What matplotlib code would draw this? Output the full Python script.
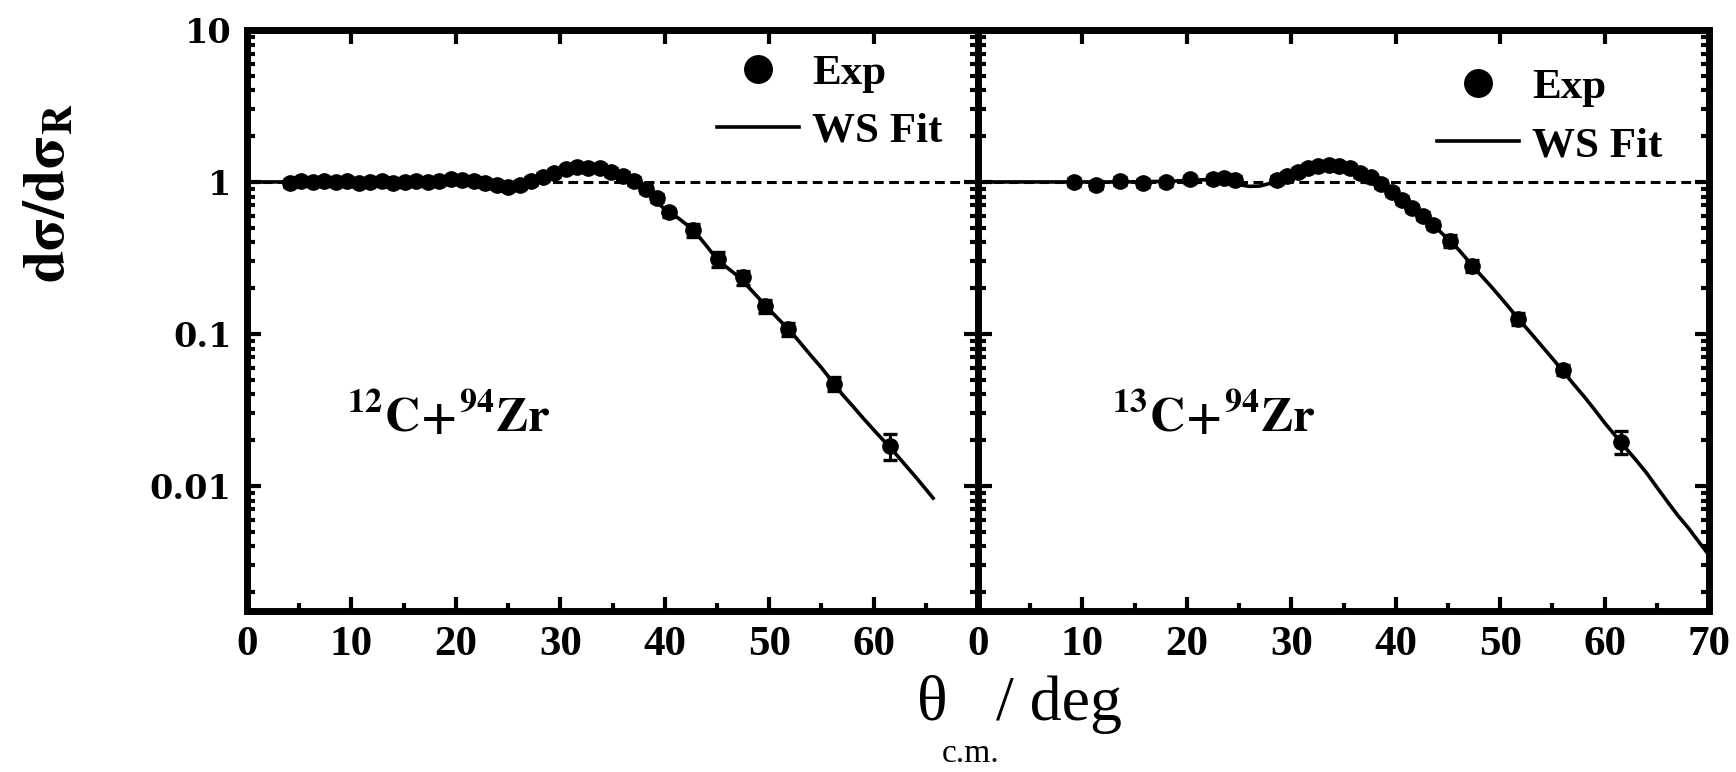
import matplotlib
matplotlib.use('Agg')
import matplotlib.pyplot as plt
from matplotlib.ticker import FixedLocator, LogLocator, NullFormatter

plt.rcParams['font.family'] = ['Liberation Serif', 'DejaVu Serif']
plt.rcParams['font.weight'] = 'bold'
plt.rcParams['mathtext.fontset'] = 'stix'

# ---------------- data: 12C + 94Zr ----------------
exp12_angle = [4.1, 5.2, 6.3, 7.4, 8.5, 9.6, 10.7, 11.8, 12.9, 14.0, 15.1, 16.2, 17.3,
               18.4, 19.5, 20.6, 21.7, 22.8, 23.9, 25.0, 26.1, 27.2, 28.3, 29.4, 30.5,
               31.6, 32.7, 33.8, 34.9, 36.0, 37.1, 38.2, 39.3, 40.4, 42.7, 45.1, 47.5,
               49.6, 51.8, 56.2, 61.6]
exp12_ratio = [0.99, 1.01, 1.00, 1.02, 1.00, 1.01, 0.99, 1.00, 1.01, 0.99, 1.00, 1.01, 1.00,
               1.02, 1.04, 1.03, 1.01, 0.98, 0.95, 0.93, 0.96, 1.02, 1.08, 1.15, 1.21,
               1.25, 1.24, 1.23, 1.17, 1.10, 1.02, 0.90, 0.78, 0.63, 0.48, 0.31, 0.235,
               0.153, 0.108, 0.047, 0.0183]
exp12_relerr = [0.06] * 34 + [0.10, 0.11, 0.11, 0.10, 0.10, 0.11, 0.19]

fit12_angle = [0, 2, 4, 6, 8, 10, 12, 14, 16, 18, 19, 20, 21, 22, 23, 24, 25, 26, 27, 28,
               29, 30, 31, 32, 33, 34, 35, 36, 37, 38, 39, 40, 41, 42, 43, 44, 45, 46, 47,
               48, 49, 50, 51, 52, 53, 54, 55, 56, 57, 58, 59, 60, 61, 62, 63, 64, 65, 65.7]
fit12_ratio = [1.0, 1.0, 1.0, 1.0, 1.0, 1.0, 1.0, 1.005, 1.01, 1.025, 1.035, 1.035, 1.02,
               0.99, 0.96, 0.935, 0.93, 0.95, 1.0, 1.07, 1.14, 1.2, 1.24, 1.25, 1.24, 1.2,
               1.14, 1.07, 0.98, 0.88, 0.77, 0.66, 0.60, 0.53, 0.46, 0.38, 0.31, 0.272,
               0.24, 0.204, 0.172, 0.145, 0.123, 0.105, 0.087, 0.072, 0.06, 0.049, 0.040,
               0.0335, 0.0279, 0.0234, 0.0197, 0.0166, 0.0138, 0.0115, 0.0095, 0.0083]

# ---------------- data: 13C + 94Zr ----------------
exp13_angle = [9.2, 11.3, 13.6, 15.8, 18.0, 20.3, 22.5, 23.6, 24.6, 28.6, 29.6, 30.6,
               31.6, 32.6, 33.6, 34.6, 35.6, 36.6, 37.6, 38.6, 39.6, 40.6, 41.6, 42.6,
               43.6, 45.2, 47.3, 51.7, 56.0, 61.6]
exp13_ratio = [1.0, 0.96, 1.02, 0.99, 1.0, 1.04, 1.05, 1.06, 1.03, 1.03, 1.1, 1.17,
               1.23, 1.27, 1.29, 1.28, 1.23, 1.15, 1.07, 0.97, 0.86, 0.76, 0.67, 0.60,
               0.52, 0.41, 0.28, 0.125, 0.058, 0.0195]
exp13_relerr = [0.06] * 25 + [0.09, 0.09, 0.09, 0.08, 0.17]

fit13_angle = [0, 2, 4, 6, 8, 10, 12, 14, 16, 18, 20, 21, 22, 23, 24, 25, 26, 27, 28, 29,
               30, 31, 32, 33, 34, 35, 36, 37, 38, 39, 40, 41, 42, 43, 44, 45, 46, 47, 48,
               49, 50, 51, 52, 53, 54, 55, 56, 57, 58, 59, 60, 61, 62, 63, 64, 65, 66, 67,
               68, 69, 70]
fit13_ratio = [1.0, 1.0, 1.0, 1.0, 1.0, 1.0, 1.0, 1.0, 1.005, 1.01, 1.02, 1.03, 1.035,
               1.03, 1.0, 0.96, 0.935, 0.94, 0.98, 1.05, 1.13, 1.2, 1.26, 1.3, 1.31, 1.28,
               1.21, 1.11, 1.0, 0.9, 0.8, 0.71, 0.63, 0.56, 0.49, 0.42, 0.36, 0.30, 0.25,
               0.21, 0.175, 0.145, 0.12, 0.10, 0.083, 0.069, 0.057, 0.047, 0.039, 0.032,
               0.026, 0.0215, 0.0178, 0.0148, 0.0122, 0.0098, 0.0079, 0.0064, 0.0053,
               0.0043, 0.0035]

x_ticks = [0, 10, 20, 30, 40, 50, 60, 70]
x_minor = [5, 15, 25, 35, 45, 55, 65]
y_ticks = [0.01, 0.1, 1, 10]
y_ticklabels = ['0.01', '0.1', '1', '10']
labels12 = ['0', '10', '20', '30', '40', '50', '60', '']
labels13 = ['0', '10', '20', '30', '40', '50', '60', '70']

# ---------------- figure ----------------
W, H = 1736, 772
L, M, R, T, B = 247, 978, 1709, 30, 611
fig = plt.figure(figsize=(W / 100, H / 100), dpi=100)
ax1 = fig.add_axes([L / W, (H - B) / H, (M - L) / W, (B - T) / H])
ax2 = fig.add_axes([M / W, (H - B) / H, (R - M) / W, (B - T) / H])

panels = [
    (ax1, exp12_angle, exp12_ratio, exp12_relerr, fit12_angle, fit12_ratio,
     r'$^{\mathbf{12}}\mathbf{C\!+\!}^{\mathbf{94}}\mathbf{Zr}$', 9.6, labels12, (0.643, 0.959)),
    (ax2, exp13_angle, exp13_ratio, exp13_relerr, fit13_angle, fit13_ratio,
     r'$^{\mathbf{13}}\mathbf{C\!+\!}^{\mathbf{94}}\mathbf{Zr}$', 12.8, labels13, (0.628, 0.934)),
]

for ax, ea, ev, er, fa, fv, name, nx, xl, legpos in panels:
    ax.set_yscale('log')
    ax.set_xlim(0, 70)
    ax.set_ylim(0.0015, 10)
    ax.axhline(1, color='k', lw=2.2, ls=(0, (3.2, 1.8)), zorder=1)
    fit_line, = ax.plot(fa, fv, color='k', lw=2.6, zorder=3, label='WS Fit')
    yerr = [v * e for v, e in zip(ev, er)]
    ax.errorbar(ea, ev, yerr=yerr, fmt='none', ecolor='k', elinewidth=2.2,
                capsize=5, capthick=2.4, zorder=4)
    exp_pts, = ax.plot(ea, ev, 'o', color='k', ms=11, zorder=5, label='Exp')
    ax.legend(handles=[exp_pts, fit_line], loc='upper left', bbox_to_anchor=legpos,
              bbox_transform=ax.transAxes, frameon=False, borderpad=0, borderaxespad=0,
              handlelength=1.9, handletextpad=0.3, labelspacing=0.43, markerscale=1.8,
              prop={'family': 'Liberation Serif', 'weight': 'bold', 'size': 31})
    ax.text(nx, 0.0226, name, fontsize=35, ha='left', va='baseline')

    for s in ax.spines.values():
        s.set_linewidth(5)
    ax.xaxis.set_major_locator(FixedLocator(x_ticks))
    ax.xaxis.set_minor_locator(FixedLocator(x_minor))
    ax.set_xticklabels(xl, fontsize=31, fontweight='bold', fontfamily='Liberation Serif')
    ax.yaxis.set_major_locator(FixedLocator(y_ticks))
    ax.yaxis.set_minor_locator(LogLocator(base=10, subs=(2, 3, 4, 5, 6, 7, 8, 9), numticks=20))
    ax.yaxis.set_minor_formatter(NullFormatter())
    ax.tick_params(which='major', direction='in', length=10, width=3,
                   top=True, right=True, bottom=True, left=True)
    ax.tick_params(axis='x', which='major', pad=11)
    ax.tick_params(axis='x', which='minor', direction='in', length=6, width=3,
                   top=False, bottom=True)
    ax.tick_params(axis='y', which='minor', direction='in', length=6, width=3,
                   left=True, right=True)

ax1.set_yticklabels(y_ticklabels, fontsize=24, fontweight='bold', fontfamily='DejaVu Serif')
ax1.tick_params(axis='y', which='major', pad=11)
ax2.tick_params(axis='y', which='both', labelleft=False)

# axis titles
fig.text(50 / W, 1 - 193 / H, r'$\mathbf{d\sigma/d\sigma_R}$', rotation=90,
         fontsize=42, ha='center', va='center')
fig.text(917 / W, 1 - 720 / H, 'θ', fontsize=46, fontweight='normal',
         ha='left', va='baseline')
fig.text(942 / W, 1 - 762 / H, 'c.m.', fontsize=24, fontweight='normal',
         ha='left', va='baseline')
fig.text(996 / W, 1 - 720 / H, '/ deg', fontsize=46, fontweight='normal',
         ha='left', va='baseline')

fig.savefig('out.png', dpi=100)
